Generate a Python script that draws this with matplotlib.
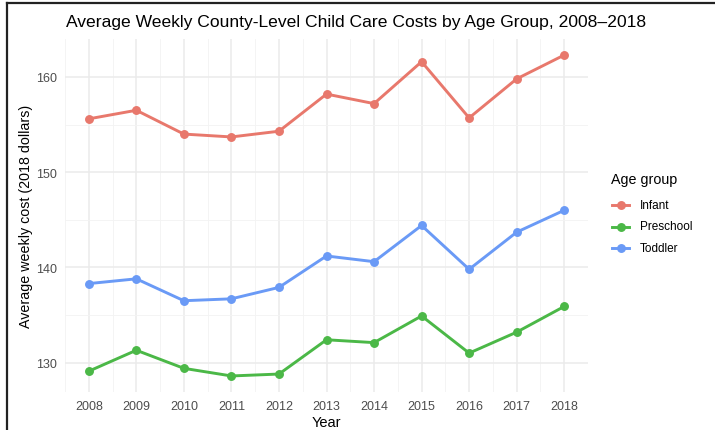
"""Average weekly county-level child care costs by age group, ggplot-minimal look."""

import matplotlib
matplotlib.use("Agg")
import matplotlib.pyplot as plt
from matplotlib.lines import Line2D

plt.rcParams["font.family"] = ["Liberation Sans", "DejaVu Sans"]

years = [2008, 2009, 2010, 2011, 2012, 2013, 2014, 2015, 2016, 2017, 2018]
infant = [155.6, 156.5, 154.0, 153.7, 154.3, 158.2, 157.2, 161.6, 155.7, 159.8, 162.3]
preschool = [129.1, 131.3, 129.4, 128.6, 128.8, 132.4, 132.1, 134.9, 131.0, 133.2, 135.9]
toddler = [138.3, 138.8, 136.5, 136.7, 137.9, 141.2, 140.6, 144.4, 139.8, 143.7, 146.0]
groups = ["Infant", "Preschool", "Toddler"]
colors = {"Infant": "#E8786C", "Preschool": "#4BB847", "Toddler": "#6A9AF6"}

W, H = 715, 431
fig = plt.figure(figsize=(W / 100, H / 100), dpi=100)
ax = fig.add_axes([65 / W, 1 - 393 / H, (588 - 65) / W, (393 - 40) / H])

for name, vals in zip(groups, [infant, preschool, toddler]):
    ax.plot(years, vals, color=colors[name], lw=2.1, marker="o", ms=5.4,
            solid_capstyle="butt", zorder=3)

# ggplot default 5% expansion
lo = min(preschool + infant + toddler)
hi = max(preschool + infant + toddler)
pad = (hi - lo) * 0.05
ax.set_ylim(lo - pad, hi + pad)
ax.set_xlim(2007.5, 2018.5)

ax.set_xticks(years)
ax.set_xticks([y + 0.5 for y in years[:-1]] + [2007.5], minor=True)
ax.set_yticks([130, 140, 150, 160])
ax.set_yticks([135, 145, 155], minor=True)
ax.grid(True, which="major", color="#EBEBEB", lw=1.1)
ax.grid(True, which="minor", color="#F3F3F3", lw=0.6)
ax.set_axisbelow(True)
for s in ax.spines.values():
    s.set_visible(False)
ax.tick_params(which="both", length=0, labelsize=9, labelcolor="#4D4D4D", pad=6)

ax.set_xlabel("Year", fontsize=10.5, labelpad=2)
ax.set_ylabel("Average weekly cost (2018 dollars)", fontsize=10.3)
ax.yaxis.set_label_coords((33.5 - 65) / 523, 0.5)
fig.text(66 / W, 1 - 22 / H, "Average Weekly County-Level Child Care Costs by Age Group, 2008\u20132018",
         fontsize=12.6, ha="left", va="center")

# legend
fig.text(611 / W, 1 - 180 / H, "Age group", fontsize=10.3, ha="left", va="center")
for i, name in enumerate(groups):
    yy = 1 - (206 + 21.5 * i) / H
    fig.add_artist(Line2D([612 / W, 629 / W], [yy, yy], color=colors[name], lw=2.1))
    fig.add_artist(Line2D([620.5 / W], [yy], color=colors[name], marker="o", ms=5.4))
    fig.text(640 / W, yy, name, fontsize=8.5, ha="left", va="center")

# frame lines (top and left edges of the screenshot box)
fig.add_artist(Line2D([6.5 / W, 1], [1 - 3.5 / H, 1 - 3.5 / H], color="#222222", lw=1.6))
fig.add_artist(Line2D([6.5 / W, 6.5 / W], [0, 1 - 3.5 / H], color="#222222", lw=1.6))

fig.savefig("out.png", dpi=100)
